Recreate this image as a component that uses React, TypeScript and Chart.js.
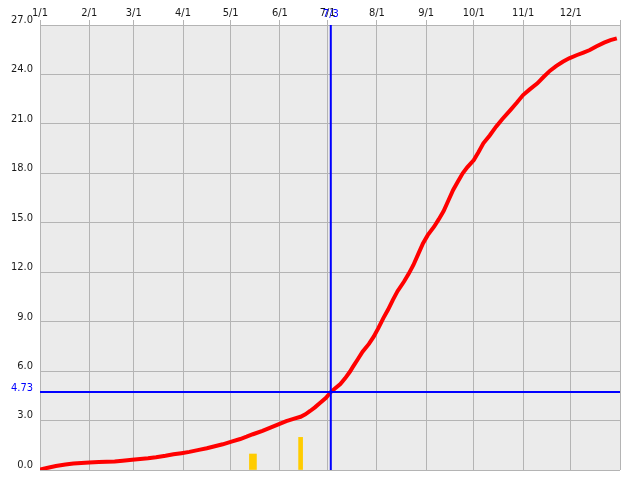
import React, { useEffect, useRef } from "react";
import { Chart, registerables } from "chart.js";

Chart.register(...registerables);

// Month start ticks (day-of-year index) and their labels
const monthStartDays = [0, 31, 59, 90, 120, 151, 181, 212, 243, 273, 304, 334, 365];
const monthLabels = ["1/1", "2/1", "3/1", "4/1", "5/1", "6/1", "7/1", "8/1", "9/1", "10/1", "11/1", "12/1", ""];
const yTicks = [0, 3, 6, 9, 12, 15, 18, 21, 24, 27];

// Cumulative series (day index -> value)
const cumDays = [0, 5, 10, 16, 21, 26, 31, 37, 42, 47, 52, 58, 63, 68, 73, 79, 84, 89, 94, 100, 105, 110, 115, 121, 126, 130, 134, 140, 145, 150, 155, 160, 164, 167, 170, 173, 176, 180, 183, 186, 189, 192, 195, 197, 200, 203, 207, 210, 213, 216, 219, 222, 225, 229, 232, 235, 238, 241, 244, 248, 251, 254, 257, 260, 263, 266, 269, 273, 276, 279, 283, 287, 291, 296, 300, 304, 308, 313, 317, 321, 325, 329, 333, 338, 342, 346, 350, 355, 359, 363];
const cumValues = [0.03, 0.14, 0.24, 0.33, 0.40, 0.43, 0.46, 0.48, 0.50, 0.52, 0.56, 0.62, 0.67, 0.71, 0.77, 0.86, 0.95, 1.02, 1.10, 1.22, 1.32, 1.44, 1.56, 1.74, 1.88, 2.02, 2.17, 2.37, 2.57, 2.77, 2.97, 3.12, 3.23, 3.38, 3.58, 3.80, 4.05, 4.38, 4.73, 4.98, 5.22, 5.56, 5.96, 6.27, 6.72, 7.18, 7.65, 8.09, 8.62, 9.20, 9.72, 10.31, 10.85, 11.42, 11.90, 12.44, 13.10, 13.75, 14.25, 14.76, 15.22, 15.71, 16.35, 16.99, 17.50, 18.00, 18.38, 18.81, 19.30, 19.82, 20.30, 20.83, 21.30, 21.84, 22.28, 22.75, 23.08, 23.46, 23.86, 24.23, 24.52, 24.77, 24.98, 25.18, 25.33, 25.48, 25.70, 25.93, 26.08, 26.19];

// Yellow bars
const barDays = [134, 164];
const barValues = [0.97, 1.98];

// Crosshair marker
const markerDay = 183;
const markerDayLabel = "7/3";
const markerValue = 4.73;
const markerValueLabel = "4.73";

const FONT_FAMILY = "'DejaVu Sans Condensed', 'DejaVu Sans', sans-serif";
const TEXT_COLOR = "#1a1a1a";
const GRID_COLOR = "#b4b4b4";
const BLUE = "#0000ff";

const decoPlugin = {
  id: "deco",
  beforeDraw(chart: any) {
    const { ctx, chartArea: a } = chart;
    ctx.save();
    ctx.fillStyle = "#ebebeb";
    ctx.fillRect(a.left, a.top, a.right - a.left, a.bottom - a.top);
    ctx.restore();
  },
  afterDraw(chart: any) {
    const { ctx, scales } = chart;
    const x = scales.x.getPixelForValue(markerDay);
    const y = scales.y.getPixelForValue(markerValue);
    ctx.save();
    ctx.font = `11px ${FONT_FAMILY}`;
    ctx.fillStyle = BLUE;
    ctx.textAlign = "center";
    ctx.textBaseline = "middle";
    ctx.fillText(markerDayLabel, x, 14);
    ctx.textAlign = "right";
    ctx.fillText(markerValueLabel, 33, y - 4);
    ctx.restore();
  },
};

export default function App() {
  const ref = useRef<HTMLCanvasElement | null>(null);

  useEffect(() => {
    if (!ref.current) return;
    const font = { family: FONT_FAMILY, size: 11 };
    const chart = new Chart(ref.current, {
      type: "line",
      data: {
        datasets: [
          {
            type: "bar",
            data: [{ x: barDays[0], y: barValues[0] }],
            backgroundColor: "#ffcc00",
            barThickness: 7,
            grouped: false,
            order: 5,
          } as any,
          {
            type: "bar",
            data: [{ x: barDays[1], y: barValues[1] }],
            backgroundColor: "#ffcc00",
            barThickness: 4,
            grouped: false,
            order: 5,
          } as any,
          {
            type: "line",
            data: cumDays.map((d, i) => ({ x: d, y: cumValues[i] })),
            borderColor: "#ff0000",
            borderWidth: 4,
            pointRadius: 0,
            tension: 0,
            order: 3,
          },
          {
            type: "line",
            data: [
              { x: markerDay, y: 0 },
              { x: markerDay, y: 27 },
            ],
            borderColor: BLUE,
            borderWidth: 2,
            pointRadius: 0,
            order: 1,
          },
          {
            type: "line",
            data: [
              { x: 0, y: markerValue },
              { x: 365, y: markerValue },
            ],
            borderColor: BLUE,
            borderWidth: 2,
            pointRadius: 0,
            order: 1,
          },
        ],
      },
      options: {
        animation: false,
        responsive: false,
        maintainAspectRatio: false,
        layout: { padding: { left: 0, right: 20, top: 0, bottom: 10 } },
        plugins: { legend: { display: false }, tooltip: { enabled: false } },
        scales: {
          x: {
            type: "linear",
            position: "top",
            min: 0,
            max: 365,
            offset: false,
            afterBuildTicks: (s: any) => {
              s.ticks = monthStartDays.map((v) => ({ value: v }));
            },
            afterFit: (s: any) => {
              s.height = 25;
              s.paddingLeft = 0;
              s.paddingRight = 0;
            },
            ticks: {
              autoSkip: false,
              maxRotation: 0,
              minRotation: 0,
              padding: 0,
              font,
              color: TEXT_COLOR,
              callback: (_v: any, i: number) => monthLabels[i],
            },
            grid: { color: GRID_COLOR, tickLength: 5, drawTicks: true, offset: false },
            border: { display: false },
          },
          y: {
            type: "linear",
            min: 0,
            max: 27,
            afterBuildTicks: (s: any) => {
              s.ticks = yTicks.map((v) => ({ value: v }));
            },
            afterFit: (s: any) => {
              s.width = 40;
              s.paddingTop = 0;
              s.paddingBottom = 0;
            },
            ticks: {
              padding: 7,
              labelOffset: -5,
              font,
              color: TEXT_COLOR,
              callback: (v: any) => Number(v).toFixed(1),
            },
            grid: { color: GRID_COLOR, drawTicks: false },
            border: { display: false },
          },
        } as any,
      },
      plugins: [decoPlugin],
    });
    return () => chart.destroy();
  }, []);

  return (
    <div style={{ position: "fixed", left: 0, top: 0, width: 640, height: 480, background: "#fff" }}>
      <canvas ref={ref} width={640} height={480} style={{ display: "block" }} />
    </div>
  );
}
